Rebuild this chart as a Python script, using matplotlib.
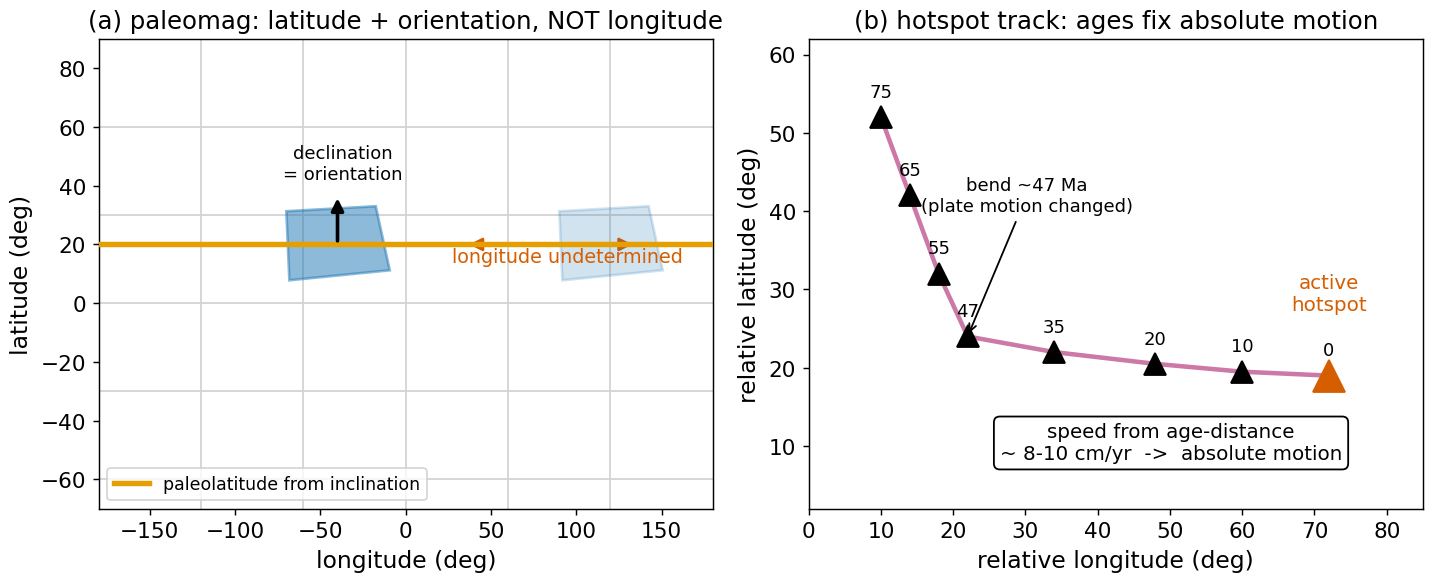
import matplotlib
matplotlib.use("Agg")
import matplotlib.pyplot as plt
from matplotlib.patches import Polygon

# ── (a) paleomag ─────────────────────────────────────────────────────────────
paleolat = 20
block_lon = [-70, -17.6, -9.4, -68.2]      # cantos do bloco (observado)
block_lat = [31.3, 33.0, 11.2, 7.8]
shift_lon = 160                            # mesma latitude, outra longitude
decl_tip = 37
graticule_lon = [-120, -60, 0, 60, 120]
graticule_lat = [-60, -30, 0, 30, 60]

# ── (b) hotspot track ────────────────────────────────────────────────────────
ages = [75, 65, 55, 47, 35, 20, 10, 0]
rel_lon = [10, 14, 18, 22, 34, 48, 60, 72]
rel_lat = [52, 42, 32, 24, 22, 20.5, 19.5, 19]

ORANGE = "#e69f00"
VERM = "#d55e00"
PINK = "#cc79a7"
BLUE = "#1f77b4"

fig, (ax1, ax2) = plt.subplots(1, 2, figsize=(11, 4.43), dpi=130)
fig.subplots_adjust(left=0.069, right=0.995, bottom=0.115, top=0.931, wspace=0.156)

# ── painel (a) ──
for lo in graticule_lon:
    ax1.axvline(lo, color="lightgray", lw=1, zorder=0)
for la in graticule_lat:
    ax1.axhline(la, color="lightgray", lw=1, zorder=0)

ax1.annotate("", xy=(35, paleolat), xytext=(135, paleolat),
             arrowprops=dict(arrowstyle="<|-|>", color=VERM, lw=1.5,
                             mutation_scale=15), zorder=2)
ax1.axhline(paleolat, color=ORANGE, lw=3, zorder=3,
            label="paleolatitude from inclination")

ax1.add_patch(Polygon(list(zip(block_lon, block_lat)), closed=True,
                      facecolor=BLUE, edgecolor=BLUE, lw=1.5, alpha=0.5, zorder=2))
ax1.add_patch(Polygon(list(zip([x + shift_lon for x in block_lon], block_lat)),
                      closed=True, facecolor=BLUE, edgecolor=BLUE, lw=1.5,
                      alpha=0.2, zorder=2))

ax1.annotate("", xy=(-40, decl_tip), xytext=(-40, paleolat),
             arrowprops=dict(arrowstyle="-|>", color="black", lw=2,
                             mutation_scale=14), zorder=4)
ax1.text(-37, 41, "declination\n= orientation", ha="center", va="bottom",
         fontsize=10)
ax1.text(95, 16, "longitude undetermined", ha="center", va="center",
         color=VERM, fontsize=10.6, zorder=5)

ax1.set_xlim(-180, 180)
ax1.set_ylim(-70, 90)
ax1.set_xlabel("longitude (deg)", fontsize=13)
ax1.set_ylabel("latitude (deg)", fontsize=13)
ax1.tick_params(labelsize=12)
ax1.set_title("(a) paleomag: latitude + orientation, NOT longitude", fontsize=13.5)
ax1.legend(loc="lower left", fontsize=9.6)

# ── painel (b) ──
ax2.plot(rel_lon, rel_lat, color=PINK, lw=2.5, zorder=1)
ax2.plot(rel_lon[:-1], rel_lat[:-1], "^", color="black", ms=12, zorder=2)
ax2.plot(rel_lon[-1], rel_lat[-1], "^", color=VERM, ms=18, zorder=2)
for a, x, y in zip(ages, rel_lon, rel_lat):
    ax2.annotate(str(a), (x, y), textcoords="offset points", xytext=(0, 9),
                 ha="center", va="bottom", fontsize=10)

ax2.annotate("bend ~47 Ma\n(plate motion changed)", xy=(rel_lon[3], rel_lat[3]),
             xytext=(30.2, 42), ha="center", va="center", fontsize=10,
             arrowprops=dict(arrowstyle="->", color="black", lw=1))
ax2.text(72, 29.5, "active\nhotspot", ha="center", va="center",
         color=VERM, fontsize=11)
ax2.text(0.59, 0.14, "speed from age-distance\n~ 8-10 cm/yr  ->  absolute motion",
         transform=ax2.transAxes, ha="center", va="center", fontsize=11,
         bbox=dict(boxstyle="round", facecolor="white", edgecolor="black"))

ax2.set_xlim(0, 85)
ax2.set_ylim(2, 62)
ax2.set_xlabel("relative longitude (deg)", fontsize=13)
ax2.set_ylabel("relative latitude (deg)", fontsize=13)
ax2.tick_params(labelsize=12)
ax2.set_title("(b) hotspot track: ages fix absolute motion", fontsize=13.5)

plt.savefig("out.png", dpi=130)
plt.close()
